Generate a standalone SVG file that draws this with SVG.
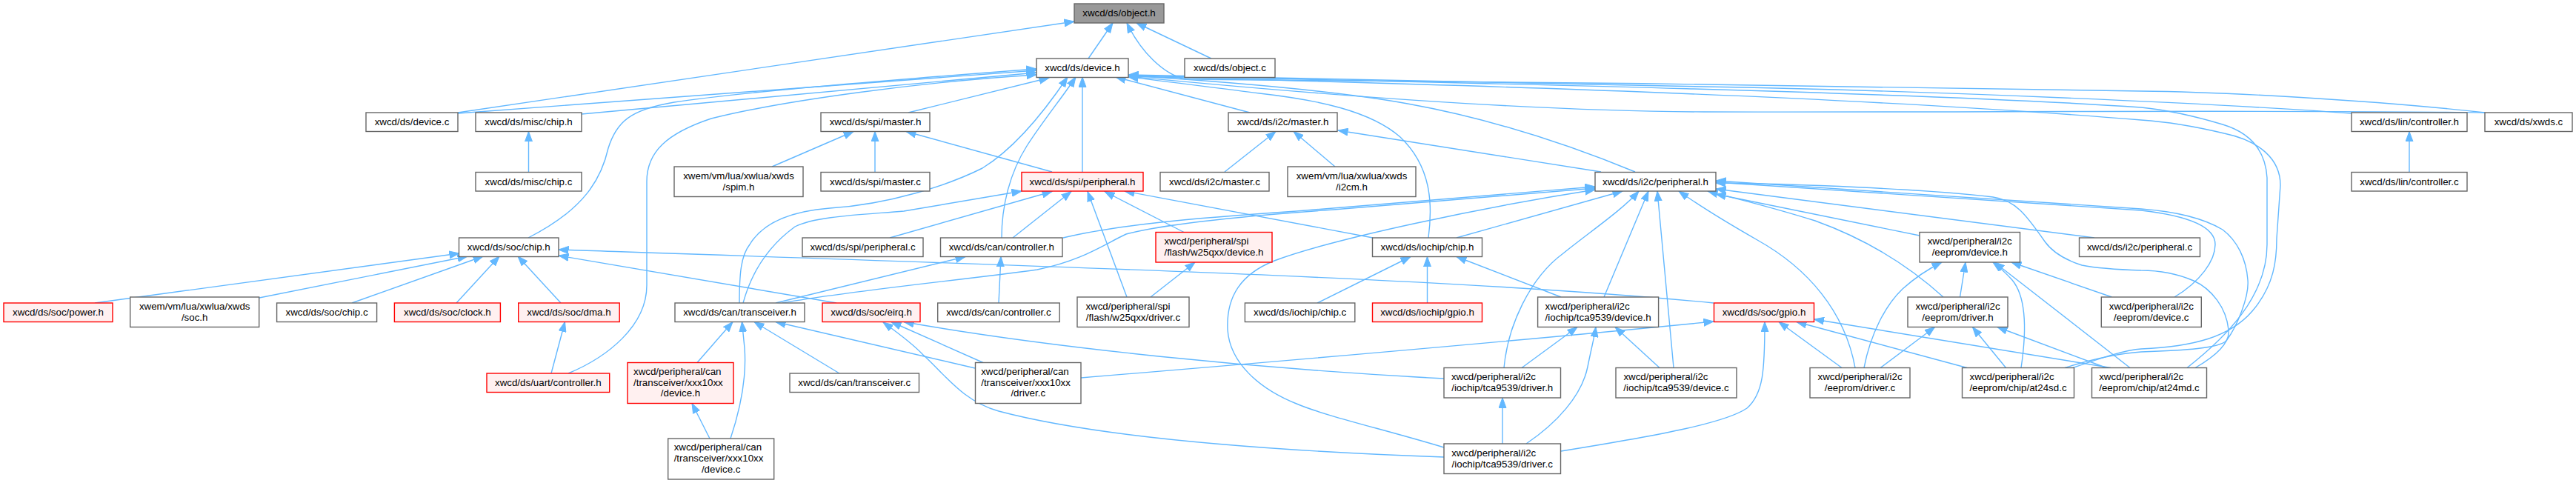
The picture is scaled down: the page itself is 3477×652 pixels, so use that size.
<svg xmlns="http://www.w3.org/2000/svg" width="3477" height="652" viewBox="0 0 3477 652">
<style>
rect{fill:#ffffff;stroke:#666666;stroke-width:1.4}
.red rect{fill:#fff0f0;stroke:#ff0000}
.root rect{fill:#999999;stroke:#666666}
text{font-family:"Liberation Sans",Arial,Helvetica,sans-serif;font-size:13.33px;fill:#000000}
.c{text-anchor:middle}
#edges path{fill:none;stroke:#63b8ff;stroke-width:1.4;marker-end:url(#ah)}
</style>
<defs>
<marker id="ah" markerUnits="userSpaceOnUse" markerWidth="14" markerHeight="11" refX="13.5" refY="5.5" orient="auto" viewBox="0 0 14 11">
<path d="M0,0.5 L13.5,5.5 L0,10.5 z" fill="#63b8ff" stroke="#63b8ff" stroke-width="1"/>
</marker>
</defs>
<rect x="0" y="0" width="3477" height="652" style="fill:#ffffff;stroke:none"/>
<g id="edges">
<path d="M1469,79 L1502,31"/>
<path d="M1635,79 L1534,31"/>
<path d="M618,152 L1450,29"/>
<path d="M3354,152 C3200,135 3000,124 2890,123 C2500,115 2000,110 1600,107 C1570,100 1540,70 1521,31"/>
<path d="M618,153 L1399,95"/>
<path d="M785,154 L1399,98"/>
<path d="M713,321 C790,282 812,240 821,200 C832,165 850,148 910,138 C1000,124 1200,108 1399,93"/>
<path d="M767,504 C820,482 873,440 873,385 L873,245 C873,205 900,180 960,160 C1060,135 1250,110 1399,101"/>
<path d="M1226,152 L1416,105"/>
<path d="M998,409 C998,370 1000,345 1012,330 C1030,300 1070,285 1120,281 C1200,276 1280,250 1326,227 C1370,200 1410,150 1441,104"/>
<path d="M1003,409 C1015,365 1040,330 1073,306 C1100,292 1160,290 1220,285 L1379,258"/>
<path d="M1352,321 C1352,280 1362,235 1386,197 C1410,160 1435,130 1452,104"/>
<path d="M1461,232 L1461,104"/>
<path d="M1687,152 L1506,104"/>
<path d="M1928,321 C1934,275 1932,225 1890,185 C1850,150 1780,135 1700,126 C1620,116 1560,108 1523,104"/>
<path d="M2207,232 C2100,188 2000,158 1900,140 C1800,122 1650,110 1523,102"/>
<path d="M3174,153 C3000,140 2600,122 2300,117 C2000,112 1700,105 1523,101"/>
<path d="M3354,152 C3100,148 2600,152 2300,151 C2050,150 1750,125 1523,103"/>
<path d="M2952,496.5 C3005,455 3060,400 3060,330 L3060,240 C3058,205 3040,180 3000,168 C2960,156 2920,148 2890,145 C2600,125 2000,112 1523,102"/>
<path d="M2798,496.5 C2840,482 2870,472 2890,471 C2960,468 3010,455 3040,420 C3070,385 3073,350 3073,322 L3078,250 C3078,215 3050,190 3002,180 C2960,170 2920,164 2890,162 C2500,130 2000,115 1523,103"/>
<path d="M1181,232 L1181,177.5"/>
<path d="M1042,225 L1152,177.5"/>
<path d="M1420,232 L1223,177.5"/>
<path d="M713.5,232 L713.5,177.5"/>
<path d="M1653,232 L1722,177.5"/>
<path d="M1802,225 L1746,177.5"/>
<path d="M2161,232 L1806,176"/>
<path d="M128,409 L620,342"/>
<path d="M350,402 L631,346"/>
<path d="M475,409 L652,346"/>
<path d="M616,409 L674,346"/>
<path d="M757,409 L699,346"/>
<path d="M2313,409 C2000,378 1500,362 754,337"/>
<path d="M1129,409 L754,345"/>
<path d="M744,504 L762.5,434.5"/>
<path d="M941,489.5 L989,434.5"/>
<path d="M986,592 C1000,550 1008,510 1005,470 L1001.5,434.5"/>
<path d="M1133,504 L1018,434.5"/>
<path d="M1316,497 L1047,434.5"/>
<path d="M958,592 L934,544.5"/>
<path d="M1327,489.5 L1203,434.5"/>
<path d="M1949,511 C1700,498 1420,470 1220,434.5"/>
<path d="M1949,617 C1700,608 1480,590 1348,555 C1300,542 1275,505 1246,479 C1230,462 1210,448 1192,435"/>
<path d="M1949,604 C1870,580 1790,562 1750,545 C1700,525 1660,490 1657,445 C1655,400 1675,370 1720,352 C1800,322 2000,280 2153,256"/>
<path d="M2028,599 L2028,537"/>
<path d="M2060,599 C2100,572 2135,535 2143,495 C2148,470 2152,455 2154,441.5"/>
<path d="M2054,496.5 L2129,441.5"/>
<path d="M2240,496.5 L2180,441.5"/>
<path d="M2107,401 L1966,346.5"/>
<path d="M1778,409 L1904,346.5"/>
<path d="M1926.5,409 L1926.5,346.5"/>
<path d="M2030,496.5 C2035,440 2065,375 2110,342 C2150,310 2190,283 2212,258"/>
<path d="M2165,401 L2225,258"/>
<path d="M2259,496.5 L2237,258"/>
<path d="M1966,321 L2190,258"/>
<path d="M1853,321 L1518,258"/>
<path d="M1435,321 C1500,305 1600,295 1750,285 L2153,252"/>
<path d="M1056,409 C1150,392 1300,378 1400,364 C1460,352 1490,330 1520,316 C1580,300 1700,290 1800,283 L2153,254"/>
<path d="M1047,409 L1303,346.5"/>
<path d="M1348,409 L1351,346.5"/>
<path d="M1367,321 L1446,258.5"/>
<path d="M1201,321 L1420,258.5"/>
<path d="M1521,401 L1468,258.5"/>
<path d="M1598,313.5 L1491,258.5"/>
<path d="M1553,401 L1613,354"/>
<path d="M1459,510 C1700,490 2000,465 2313,434"/>
<path d="M2107,609 C2250,586 2330,570 2358,551 C2380,532 2382,500 2382,434.5"/>
<path d="M2486,496.5 L2401,434.5"/>
<path d="M2655,496.5 L2425,434.5"/>
<path d="M2849,496.5 L2448.5,431"/>
<path d="M2504,496.5 C2490,420 2440,362 2372,324 C2330,300 2290,275 2266,258"/>
<path d="M2623,401 C2580,362 2525,325 2450,298 C2380,276 2330,265 2305,258"/>
<path d="M2591,318 L2316,262"/>
<path d="M2827,321 L2316,255"/>
<path d="M2935,401 C2970,380 2990,352 2990,330 C2990,308 2960,292 2890,284 L2316,246"/>
<path d="M2787,496.5 C2830,483 2860,477 2890,475 C2950,473 2995,470 3005,460 C3020,440 3036,400 3034,378 C3032,350 3020,325 3000,310 C2970,292 2930,285 2890,282 L2316,244"/>
<path d="M2963,496.5 C2995,478 3010,460 3008,445 C3005,415 2985,390 2961,379 C2940,370 2915,365 2890,365 C2860,364 2830,362 2810,358 C2785,350 2770,340 2760,326 C2735,290 2720,270 2690,266 C2600,255 2420,248 2316,247"/>
<path d="M2707.5,496.5 L2662.5,441.5"/>
<path d="M2843,496.5 L2696,441.5"/>
<path d="M2538,496.5 L2611.5,441.5"/>
<path d="M2516,496.5 C2525,450 2545,412 2568,390 C2588,372 2605,362 2621,354"/>
<path d="M2645.5,401 L2653,354"/>
<path d="M2728,496.5 C2735,450 2736,402 2716,378 C2706,367 2698,360 2690,354"/>
<path d="M2875,496.5 L2692,354"/>
<path d="M2850.5,401 L2715,354"/>
<path d="M3252,232.5 L3252,177.5"/>
</g>
<g id="n_object_h" class="root"><rect x="1450" y="5" width="121" height="26"/><text class="c" x="1510.5" y="21.5">xwcd/ds/object.h</text></g>
<g id="n_device_h"><rect x="1399" y="79" width="124" height="25.5"/><text class="c" x="1461" y="96">xwcd/ds/device.h</text></g>
<g id="n_object_c"><rect x="1599" y="79" width="122" height="25.5"/><text class="c" x="1660" y="96">xwcd/ds/object.c</text></g>
<g id="n_device_c"><rect x="494" y="152" width="124" height="25.5"/><text class="c" x="556" y="169">xwcd/ds/device.c</text></g>
<g id="n_misc_chip_h"><rect x="642" y="152" width="143" height="25.5"/><text class="c" x="713.5" y="169">xwcd/ds/misc/chip.h</text></g>
<g id="n_spi_master_h"><rect x="1108" y="152" width="147" height="25.5"/><text class="c" x="1181.5" y="169">xwcd/ds/spi/master.h</text></g>
<g id="n_i2c_master_h"><rect x="1658" y="152" width="147" height="25.5"/><text class="c" x="1731.5" y="169">xwcd/ds/i2c/master.h</text></g>
<g id="n_lin_controller_h"><rect x="3174" y="152" width="156" height="25.5"/><text class="c" x="3252" y="169">xwcd/ds/lin/controller.h</text></g>
<g id="n_xwds_c"><rect x="3354" y="152" width="118" height="25.5"/><text class="c" x="3413" y="169">xwcd/ds/xwds.c</text></g>
<g id="n_misc_chip_c"><rect x="642" y="232.5" width="143" height="25.5"/><text class="c" x="713.5" y="249.5">xwcd/ds/misc/chip.c</text></g>
<g id="n_spim_h"><rect x="910" y="225" width="174" height="40.5"/><text x="922.2" y="241.5">xwem/vm/lua/xwlua/xwds</text><text class="c" x="997" y="256.5">/spim.h</text></g>
<g id="n_spi_master_c"><rect x="1108" y="232.5" width="147" height="25.5"/><text class="c" x="1181.5" y="249.5">xwcd/ds/spi/master.c</text></g>
<g id="n_spi_peripheral_h" class="red"><rect x="1379" y="232.5" width="164" height="25.5"/><text class="c" x="1461" y="249.5">xwcd/ds/spi/peripheral.h</text></g>
<g id="n_i2c_master_c"><rect x="1566" y="232.5" width="147" height="25.5"/><text class="c" x="1639.5" y="249.5">xwcd/ds/i2c/master.c</text></g>
<g id="n_i2cm_h"><rect x="1738" y="225" width="173" height="40.5"/><text x="1749.7" y="241.5">xwem/vm/lua/xwlua/xwds</text><text class="c" x="1824.5" y="256.5">/i2cm.h</text></g>
<g id="n_i2c_peripheral_h"><rect x="2153" y="232.5" width="163" height="25.5"/><text class="c" x="2234.5" y="249.5">xwcd/ds/i2c/peripheral.h</text></g>
<g id="n_lin_controller_c"><rect x="3174" y="232.5" width="156" height="25.5"/><text class="c" x="3252" y="249.5">xwcd/ds/lin/controller.c</text></g>
<g id="n_soc_chip_h"><rect x="619.5" y="321" width="134.5" height="25.5"/><text class="c" x="686.75" y="338">xwcd/ds/soc/chip.h</text></g>
<g id="n_spi_peripheral_c"><rect x="1083" y="321" width="163" height="25.5"/><text class="c" x="1164.5" y="338">xwcd/ds/spi/peripheral.c</text></g>
<g id="n_can_controller_h"><rect x="1269.5" y="321" width="164.5" height="25.5"/><text class="c" x="1351.75" y="338">xwcd/ds/can/controller.h</text></g>
<g id="n_w25qxx_device_h" class="red"><rect x="1560" y="313.5" width="157" height="40.5"/><text x="1571.4" y="330">xwcd/peripheral/spi</text><text class="c" x="1638.5" y="345">/flash/w25qxx/device.h</text></g>
<g id="n_iochip_chip_h"><rect x="1852.5" y="321" width="148" height="25.5"/><text class="c" x="1926.5" y="338">xwcd/ds/iochip/chip.h</text></g>
<g id="n_eeprom_device_h"><rect x="2591" y="313.5" width="135.5" height="40.5"/><text x="2601.7" y="330">xwcd/peripheral/i2c</text><text class="c" x="2658.75" y="345">/eeprom/device.h</text></g>
<g id="n_i2c_peripheral_c"><rect x="2806.5" y="321" width="163" height="25.5"/><text class="c" x="2888" y="338">xwcd/ds/i2c/peripheral.c</text></g>
<g id="n_soc_power_h" class="red"><rect x="5" y="409" width="147" height="25.5"/><text class="c" x="78.5" y="426">xwcd/ds/soc/power.h</text></g>
<g id="n_soc_h"><rect x="175.7" y="401" width="174" height="40.5"/><text x="187.9" y="417.5">xwem/vm/lua/xwlua/xwds</text><text class="c" x="262.7" y="432.5">/soc.h</text></g>
<g id="n_soc_chip_c"><rect x="373.6" y="409" width="135" height="25.5"/><text class="c" x="441.1" y="426">xwcd/ds/soc/chip.c</text></g>
<g id="n_soc_clock_h" class="red"><rect x="532.4" y="409" width="143" height="25.5"/><text class="c" x="603.9" y="426">xwcd/ds/soc/clock.h</text></g>
<g id="n_soc_dma_h" class="red"><rect x="699.7" y="409" width="136.5" height="25.5"/><text class="c" x="767.95" y="426">xwcd/ds/soc/dma.h</text></g>
<g id="n_can_transceiver_h"><rect x="911" y="409" width="175" height="25.5"/><text class="c" x="998.5" y="426">xwcd/ds/can/transceiver.h</text></g>
<g id="n_soc_eirq_h" class="red"><rect x="1110" y="409" width="132" height="25.5"/><text class="c" x="1176" y="426">xwcd/ds/soc/eirq.h</text></g>
<g id="n_can_controller_c"><rect x="1265.7" y="409" width="164.5" height="25.5"/><text class="c" x="1347.95" y="426">xwcd/ds/can/controller.c</text></g>
<g id="n_w25qxx_driver_c"><rect x="1454" y="401" width="151" height="40.5"/><text x="1465.4" y="417.5">xwcd/peripheral/spi</text><text class="c" x="1529.5" y="432.5">/flash/w25qxx/driver.c</text></g>
<g id="n_iochip_chip_c"><rect x="1680.4" y="409" width="148.4" height="25.5"/><text class="c" x="1754.6" y="426">xwcd/ds/iochip/chip.c</text></g>
<g id="n_iochip_gpio_h" class="red"><rect x="1852.5" y="409" width="148" height="25.5"/><text class="c" x="1926.5" y="426">xwcd/ds/iochip/gpio.h</text></g>
<g id="n_tca9539_device_h"><rect x="2075.6" y="401" width="163" height="40.5"/><text x="2085.6" y="417.5">xwcd/peripheral/i2c</text><text class="c" x="2157.1" y="432.5">/iochip/tca9539/device.h</text></g>
<g id="n_soc_gpio_h" class="red"><rect x="2313.5" y="409" width="135" height="25.5"/><text class="c" x="2381" y="426">xwcd/ds/soc/gpio.h</text></g>
<g id="n_eeprom_driver_h"><rect x="2575" y="401" width="135" height="40.5"/><text x="2585.5" y="417.5">xwcd/peripheral/i2c</text><text class="c" x="2642.5" y="432.5">/eeprom/driver.h</text></g>
<g id="n_eeprom_device_c"><rect x="2836.3" y="401" width="135" height="40.5"/><text x="2846.8" y="417.5">xwcd/peripheral/i2c</text><text class="c" x="2903.8" y="432.5">/eeprom/device.c</text></g>
<g id="n_uart_controller_h" class="red"><rect x="657" y="504" width="165.7" height="25.5"/><text class="c" x="739.85" y="521">xwcd/ds/uart/controller.h</text></g>
<g id="n_xxx10xx_device_h" class="red"><rect x="847" y="489.5" width="143" height="55"/><text x="855" y="505.8">xwcd/peripheral/can</text><text x="855" y="520.6">/transceiver/xxx10xx</text><text class="c" x="918.5" y="535.4">/device.h</text></g>
<g id="n_can_transceiver_c"><rect x="1066" y="504" width="174.5" height="25.5"/><text class="c" x="1153.25" y="521">xwcd/ds/can/transceiver.c</text></g>
<g id="n_xxx10xx_driver_c"><rect x="1316.5" y="489.5" width="142.5" height="55"/><text x="1324.2" y="505.8">xwcd/peripheral/can</text><text x="1324.2" y="520.6">/transceiver/xxx10xx</text><text class="c" x="1387.75" y="535.4">/driver.c</text></g>
<g id="n_tca9539_driver_h"><rect x="1949" y="496.5" width="157.5" height="40.5"/><text x="1958.9" y="513">xwcd/peripheral/i2c</text><text class="c" x="2027.75" y="528">/iochip/tca9539/driver.h</text></g>
<g id="n_tca9539_device_c"><rect x="2181" y="496.5" width="163" height="40.5"/><text x="2191.4" y="513">xwcd/peripheral/i2c</text><text class="c" x="2262.5" y="528">/iochip/tca9539/device.c</text></g>
<g id="n_eeprom_driver_c"><rect x="2443" y="496.5" width="135" height="40.5"/><text x="2453.5" y="513">xwcd/peripheral/i2c</text><text class="c" x="2510.5" y="528">/eeprom/driver.c</text></g>
<g id="n_at24sd_c"><rect x="2648.5" y="496.5" width="151" height="40.5"/><text x="2658.5" y="513">xwcd/peripheral/i2c</text><text class="c" x="2724" y="528">/eeprom/chip/at24sd.c</text></g>
<g id="n_at24md_c"><rect x="2823.5" y="496.5" width="155" height="40.5"/><text x="2833.2" y="513">xwcd/peripheral/i2c</text><text class="c" x="2901" y="528">/eeprom/chip/at24md.c</text></g>
<g id="n_xxx10xx_device_c"><rect x="901.7" y="592" width="143" height="55"/><text x="909.65" y="608.3">xwcd/peripheral/can</text><text x="909.65" y="623.1">/transceiver/xxx10xx</text><text class="c" x="973.2" y="637.9">/device.c</text></g>
<g id="n_tca9539_driver_c"><rect x="1949" y="599" width="157.5" height="40.5"/><text x="1959.2" y="615.5">xwcd/peripheral/i2c</text><text class="c" x="2027.75" y="630.5">/iochip/tca9539/driver.c</text></g>
</svg>
